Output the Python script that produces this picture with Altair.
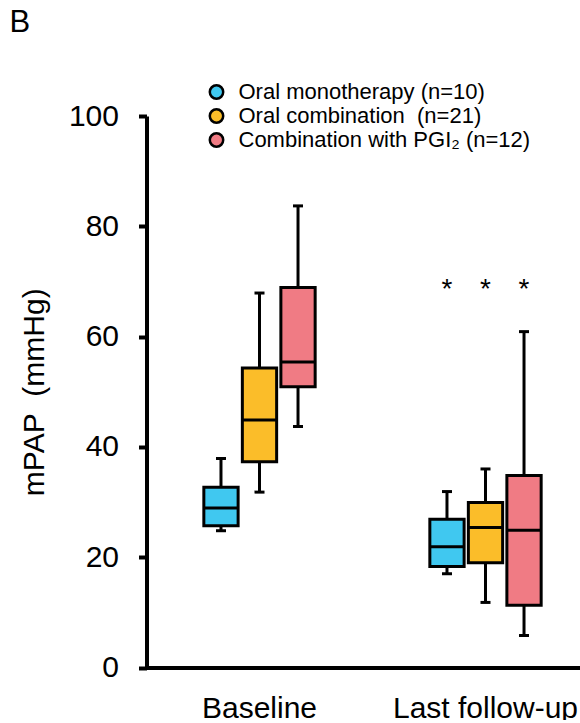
import altair as alt
import pandas as pd

# Treatment groups (legend order) and time points
groups = [
    "Oral monotherapy (n=10)",
    "Oral combination\u00a0 (n=21)",
    "Combination with PGI\u2082 (n=12)",
]
times = ["Baseline", "Last follow-up"]
colors = ["#40C8F0", "#FBBD29", "#F07B84"]

# Box summaries, Baseline groups first, then Last follow-up groups
box_time = ["Baseline"] * 3 + ["Last follow-up"] * 3
box_group = groups + groups
whisker_low = [24.8, 31.8, 43.7, 17.0, 11.8, 5.8]
quart_1 = [25.7, 37.3, 50.9, 18.3, 19.0, 11.3]
medians = [28.9, 44.9, 55.4, 21.9, 25.4, 24.9]
quart_3 = [32.7, 54.3, 68.9, 26.9, 29.9, 34.8]
whisker_high = [37.9, 67.9, 83.7, 31.9, 36.0, 60.9]

# Significance markers above the follow-up boxes
star_time = ["Last follow-up"] * 3
star_group = groups
star_y = [68.5, 68.5, 68.5]

FONT = "Liberation Sans"

boxes = pd.DataFrame({
    "time": box_time, "group": box_group,
    "low": whisker_low, "q1": quart_1, "med": medians,
    "q3": quart_3, "high": whisker_high,
})
stars = pd.DataFrame({"time": star_time, "group": star_group, "y": star_y})

x_enc = alt.X(
    "time:N",
    scale=alt.Scale(domain=times, range=[0, 452], paddingInner=0.337, paddingOuter=0.1685),
    axis=alt.Axis(
        title=None, labelAngle=0, ticks=False, domainWidth=4, domainColor="black",
        labelFontSize=30, labelPadding=26, labelColor="black", labelFont=FONT,
        labelLimit=0,
    ),
)
off_enc = alt.XOffset(
    "group:N",
    scale=alt.Scale(domain=groups, paddingInner=0.11, paddingOuter=0.5),
)
y_scale = alt.Scale(domain=[0, 100], nice=False)
y_axis = alt.Axis(
    values=[0, 20, 40, 60, 80, 100], grid=False,
    title="mPAP\u00a0 (mmHg)", titleFontSize=30, titleFontWeight="normal",
    titleFont=FONT, titleColor="black", titlePadding=19,
    domainWidth=4, domainColor="black", tickWidth=4, tickColor="black", tickSize=8,
    labelFontSize=30, labelPadding=20, labelColor="black", labelFont=FONT,
)

base = alt.Chart(boxes).encode(x=x_enc, xOffset=off_enc)

whisk_lo = base.mark_rule(color="black", strokeWidth=3).encode(
    y=alt.Y("low:Q", scale=y_scale, axis=y_axis), y2="q1:Q"
)
whisk_hi = base.mark_rule(color="black", strokeWidth=3).encode(
    y=alt.Y("q3:Q"), y2="high:Q"
)
box = base.mark_bar(stroke="black", strokeWidth=3, opacity=1).encode(
    y=alt.Y("q1:Q"), y2="q3:Q",
    fill=alt.Fill(
        "group:N",
        scale=alt.Scale(domain=groups, range=colors),
        legend=alt.Legend(
            title=None, orient="none", legendX=59, legendY=-35,
            symbolType="circle", symbolSize=180, symbolStrokeColor="black",
            symbolStrokeWidth=2.5, symbolOpacity=1,
            labelFontSize=22, labelFont=FONT, labelColor="black",
            labelOffset=11, rowPadding=0, padding=0, labelLimit=400,
        ),
    ),
)
median = base.mark_tick(color="black", thickness=3, size=34, orient="horizontal", opacity=1).encode(
    y="med:Q"
)
cap_lo = base.mark_tick(color="black", thickness=3, size=10, orient="horizontal", opacity=1).encode(
    y="low:Q"
)
cap_hi = base.mark_tick(color="black", thickness=3, size=10, orient="horizontal", opacity=1).encode(
    y="high:Q"
)
star = alt.Chart(stars).mark_text(
    text="*", fontSize=28, font=FONT, color="black", baseline="middle", dy=0
).encode(x=x_enc, xOffset=off_enc, y="y:Q")

chart = (
    alt.layer(whisk_lo, whisk_hi, box, median, cap_lo, cap_hi, star)
    .properties(
        width=433.5, height=551.5, autosize="none",
        padding={"left": 146.5, "top": 116, "right": 0, "bottom": 52},
        title=alt.TitleParams(
            "B", anchor="start", frame="group", fontSize=31, fontWeight="normal",
            font=FONT, color="black", dx=-137, offset=42,
        ),
    )
    .configure_view(stroke=None)
)

chart.save("out.html", embed_options={"renderer": "svg", "actions": False})
